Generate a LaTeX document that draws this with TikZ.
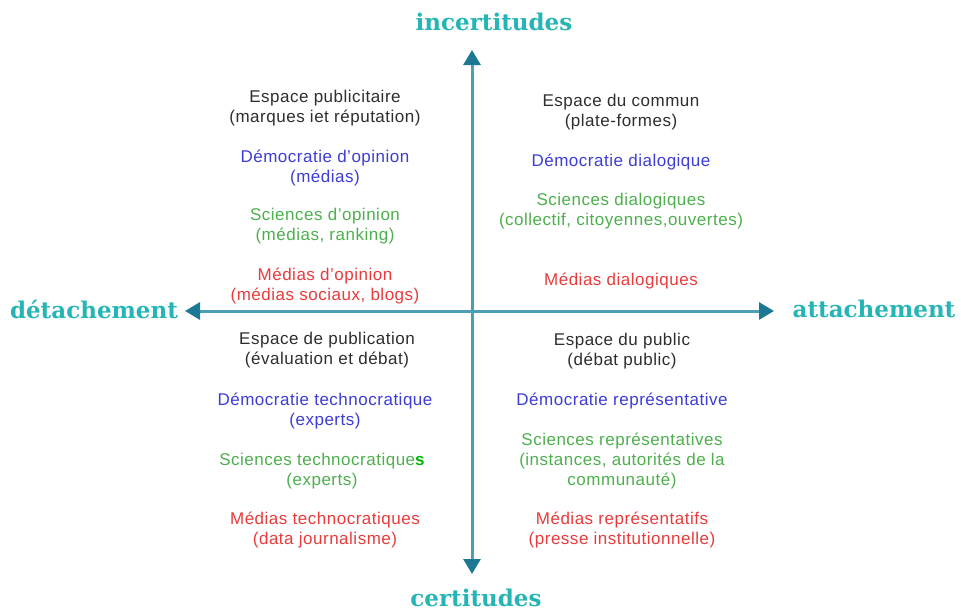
\documentclass[tikz,border=0pt]{standalone}
\usepackage{fontspec}
\setmainfont{Liberation Sans}[LetterSpace=3]
\newfontfamily\axisfont{DejaVu Serif}
\usetikzlibrary{arrows.meta}
\definecolor{txtgray}{HTML}{2E2E2E}
\definecolor{txtblue}{HTML}{3D3DD6}
\definecolor{txtgreen}{HTML}{4DB04D}
\definecolor{txtred}{HTML}{E83C3C}
\definecolor{brightgreen}{HTML}{00B400}
\definecolor{axisline}{HTML}{4A9FB5}
\definecolor{axishead}{HTML}{1C7895}
\definecolor{axislabel}{HTML}{26B5B5}
\tikzset{
  blk/.style={align=center, font=\fontsize{17}{20}\selectfont, inner sep=0pt},
  gray/.style={blk, text=txtgray},
  blue/.style={blk, text=txtblue},
  green/.style={blk, text=txtgreen},
  red/.style={blk, text=txtred},
  axlab/.style={font=\axisfont\bfseries\fontsize{23}{26}\selectfont, text=axislabel, inner sep=0pt},
  axis/.style={line width=3pt, draw=axisline,
    {Triangle[length=15pt,width=17pt,color=axishead]}-{Triangle[length=15pt,width=17pt,color=axishead]}}
}
\begin{document}
\begin{tikzpicture}[x=1pt,y=-1pt]
\useasboundingbox[fill=white] (0,0) rectangle (961,611);
% axes
\coordinate (L) at (185,311);
\coordinate (R) at (774,311);
\coordinate (T) at (472,50);
\coordinate (B) at (472,574);
\draw[axis] (L) -- (R);
\draw[axis] (B) -- (T);
\node[axlab] (inc) at (494,22) {incertitudes};
\node[axlab] (cer) at (476,598) {certitudes};
\node[axlab] (det) at (94,309) {détachement};
\node[axlab] (att) at (874,309) {attachement};
% top-left
\node[gray]  (tl1) at (325,108.5) {Espace publicitaire\\(marques iet réputation)};
\node[blue]  (tl2) at (325,168) {Démocratie d’opinion\\(médias)};
\node[green] (tl3) at (325,226.5) {Sciences d’opinion\\(médias, ranking)};
\node[red]   (tl4) at (325,285.5) {Médias d’opinion\\(médias sociaux, blogs)};
% top-right
\node[gray]  (tr1) at (621,112.5) {Espace du commun\\(plate-formes)};
\node[blue]  (tr2) at (621,162) {Démocratie dialogique};
\node[green] (tr3) at (621,211) {Sciences dialogiques\\(collectif, citoyennes,ouvertes)};
\node[red]   (tr4) at (621,281) {Médias dialogiques};
% bottom-left
\node[gray]  (bl1) at (327,350) {Espace de publication\\(évaluation et débat)};
\node[blue]  (bl2) at (325,411) {Démocratie technocratique\\(experts)};
\node[green] (bl3) at (322,471) {Sciences technocratique{\color{brightgreen}\bfseries s}\\(experts)};
\node[red]   (bl4) at (325,530) {Médias technocratiques\\(data journalisme)};
% bottom-right
\node[gray]  (br1) at (622,351) {Espace du public\\(débat public)};
\node[blue]  (br2) at (622,401) {Démocratie représentative};
\node[green] (br3) at (622,461) {Sciences représentatives\\(instances, autorités de la\\communauté)};
\node[red]   (br4) at (622,530) {Médias représentatifs\\(presse institutionnelle)};
\end{tikzpicture}
\end{document}
